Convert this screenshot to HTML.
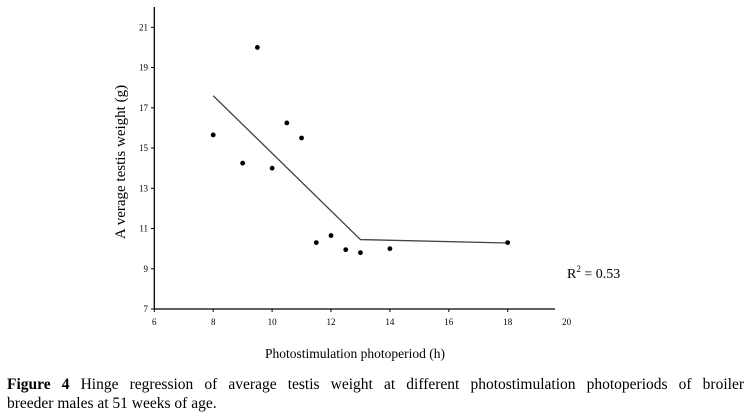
<!DOCTYPE html>
<html><head><meta charset="utf-8"><style>
body{margin:0;background:#fff;width:751px;height:416px;overflow:hidden;font-family:"Liberation Serif",serif}
.cap{position:absolute;left:7px;top:375px;width:737px;font-size:15.5px;line-height:19px}
.l1{text-align:justify;text-align-last:justify;white-space:nowrap}
</style></head><body>
<svg id="chart" width="751" height="370" style="position:absolute;left:0;top:0" font-family="Liberation Serif, serif"></svg>
<div class="cap"><div class="l1"><b>Figure 4</b> Hinge regression of average testis weight at different photostimulation photoperiods of broiler</div><div>breeder males at 51 weeks of age.</div></div>
<script>
const xVals=[8,9,9.5,10,10.5,11,11.5,12,12.5,13,14,18];
const yVals=[15.65,14.25,20,14.0,16.25,15.5,10.3,10.65,9.95,9.8,10,10.3];
const fitX=[8,13,18];
const fitY=[17.6,10.45,10.28];
const xTicks=[6,8,10,12,14,16,18,20];
const yTicks=[7,9,11,13,15,17,19,21];
const NS="http://www.w3.org/2000/svg";
const svg=document.getElementById('chart');
const sx=v=>154.3+(v-6)*29.45;
const sy=v=>309-(v-7)*20.12;
function mk(t,a){const e=document.createElementNS(NS,t);for(const k in a)e.setAttribute(k,a[k]);svg.appendChild(e);return e;}
let e;
e=mk('line',{x1:154.3,y1:7,x2:154.3,y2:309,stroke:'#000','stroke-width':1.3});


e=mk('line',{x1:154.3,y1:309,x2:555,y2:309,stroke:'#000','stroke-width':1.3});


xTicks.forEach(t=>{
 if(t<=19){e=mk('line',{x1:sx(t),y1:309,x2:sx(t),y2:312,stroke:'#000'});
 
 }
 e=mk('text',{x:sx(t),y:325,'font-size':9,'text-anchor':'middle'});e.textContent=t;
 
 
});
yTicks.forEach(t=>{
 e=mk('line',{x1:151,y1:sy(t),x2:154.3,y2:sy(t),stroke:'#000'});
 
 
 e=mk('text',{x:148,y:sy(t)+3,'font-size':9,'text-anchor':'end'});e.textContent=t;
 
 
});
e=mk('polyline',{points:fitX.map((x,i)=>sx(x)+','+sy(fitY[i])).join(' '),fill:'none',stroke:'#444','stroke-width':1.3});


xVals.forEach((x,i)=>{
 e=mk('circle',{cx:sx(x),cy:sy(yVals[i]),r:2.4,fill:'#000'});
 
 
});
e=mk('text',{x:355,y:358,'font-size':13.5,'text-anchor':'middle'});e.textContent='Photostimulation photoperiod (h)';


e=mk('text',{x:0,y:0,'font-size':15,'text-anchor':'middle',transform:'translate(125,162) rotate(-90)'});e.textContent='A verage testis weight (g)';


e=mk('text',{x:567,y:278,'font-size':14});e.innerHTML='R<tspan dy="-6" font-size="9">2</tspan><tspan dy="6"> = 0.53</tspan>';


</script>
</body></html>
